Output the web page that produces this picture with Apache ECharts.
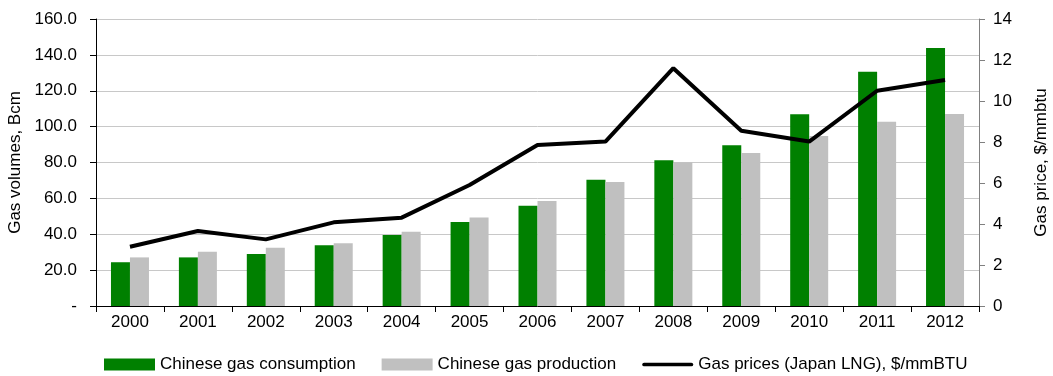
<!DOCTYPE html>
<html><head><meta charset="utf-8">
<script src="https://cdn.jsdelivr.net/npm/echarts@6/dist/echarts.min.js"></script>
<style>html,body{margin:0;padding:0;background:#fff}#c{width:1053px;height:376px}</style>
</head><body><div id="c"></div>
<script>
const years = ['2000','2001','2002','2003','2004','2005','2006','2007','2008','2009','2010','2011','2012'];
const consumption = [24.4, 27.1, 29.0, 33.8, 39.6, 46.8, 55.9, 70.4, 81.2, 89.6, 106.9, 130.6, 143.8];
const production = [27.1, 30.3, 32.5, 35.0, 41.4, 49.4, 58.5, 69.1, 80.1, 85.3, 94.8, 102.7, 107.0];
const lngPrice = [2.89, 3.66, 3.25, 4.08, 4.31, 5.9, 7.85, 8.02, 11.6, 8.55, 8.02, 10.5, 11.02];
const leftTicks = {min: 0, max: 160, interval: 20};
const rightTicks = {min: 0, max: 14, interval: 2};

const font = '"Liberation Sans", Arial, sans-serif';
const fs = 17;
const chart = echarts.init(document.getElementById('c'), null, {renderer: 'canvas'});
chart.setOption({
  animation: false,
  textStyle: {fontFamily: font},
  grid: {left: 96, right: 74, top: 19, bottom: 70, containLabel: false, outerBoundsMode: 'none'},
  legend: {
    left: 99, top: 351, itemWidth: 51, itemHeight: 12, itemGap: 26,
    textStyle: {fontFamily: font, fontSize: fs, color: '#000'},
    data: [
      {name: 'Chinese gas consumption', icon: 'rect'},
      {name: 'Chinese gas production', icon: 'rect'},
      {name: 'Gas prices (Japan LNG), $/mmBTU', icon: 'path://M2,0 L53,0 A2,2 0 0 1 53,4 L2,4 A2,2 0 0 1 2,0 Z'}
    ]
  },
  xAxis: {
    type: 'category', data: years, boundaryGap: true,
    axisLine: {lineStyle: {color: '#000', width: 1}},
    axisTick: {show: true, alignWithLabel: false, length: 6, lineStyle: {color: '#000'}},
    axisLabel: {color: '#000', fontSize: fs, fontFamily: font, margin: 8}
  },
  yAxis: [{
    type: 'value', min: leftTicks.min, max: leftTicks.max, interval: leftTicks.interval,
    name: 'Gas volumes, Bcm', nameLocation: 'middle', nameGap: 66, nameRotate: 90,
    nameTextStyle: {fontSize: fs, color: '#000', fontFamily: font},
    axisLine: {show: true, lineStyle: {color: '#000'}},
    axisTick: {show: true, length: 6, lineStyle: {color: '#000'}},
    axisLabel: {color: '#000', fontSize: fs, fontFamily: font, margin: 19,
      formatter: v => v === 0 ? '-' : v.toFixed(1)},
    splitLine: {show: true, lineStyle: {color: '#c8c8c8', width: 1}}
  }, {
    type: 'value', min: rightTicks.min, max: rightTicks.max, interval: rightTicks.interval,
    name: 'Gas price, $/mmbtu', nameLocation: 'middle', nameGap: 54, nameRotate: 90,
    nameTextStyle: {fontSize: fs, color: '#000', fontFamily: font},
    axisLine: {show: true, lineStyle: {color: '#808080'}},
    axisTick: {show: true, length: 6, lineStyle: {color: '#808080'}},
    axisLabel: {color: '#000', fontSize: fs, fontFamily: font, margin: 14},
    splitLine: {show: false}
  }],
  series: [{
    name: 'Chinese gas consumption', type: 'bar', data: consumption,
    barWidth: 19, barGap: '0%', itemStyle: {color: '#008000'}
  }, {
    name: 'Chinese gas production', type: 'bar', data: production,
    barWidth: 19, barGap: '0%', itemStyle: {color: '#c0c0c0'}
  }, {
    name: 'Gas prices (Japan LNG), $/mmBTU', type: 'line', yAxisIndex: 1, data: lngPrice,
    symbol: 'none', lineStyle: {color: '#000', width: 4}, itemStyle: {color: '#000'}
  }]
});
</script></body></html>
